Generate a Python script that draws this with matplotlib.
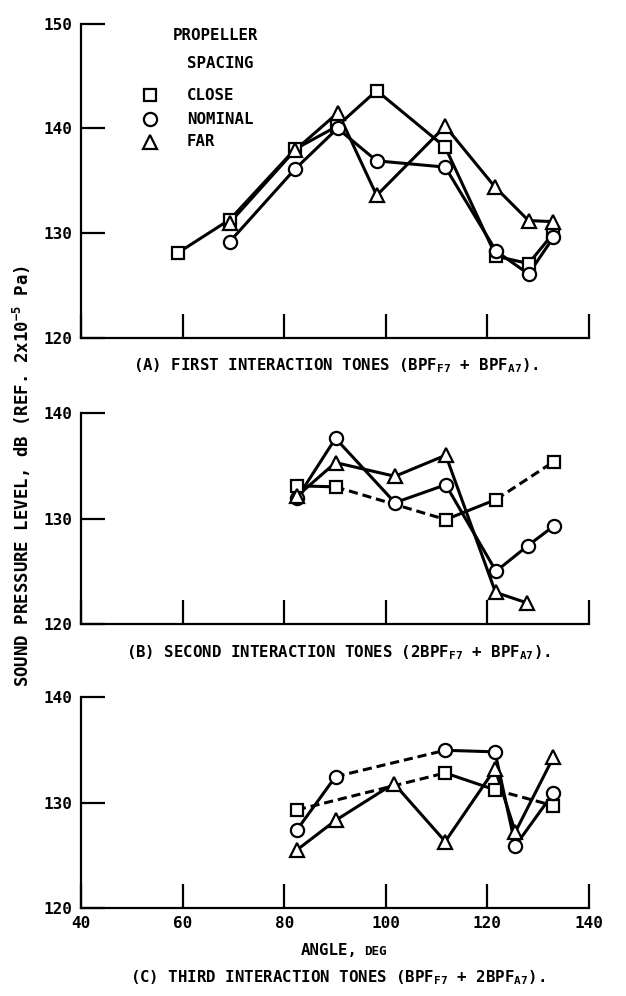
import matplotlib
matplotlib.use("Agg")
import matplotlib.pyplot as plt
from matplotlib.lines import Line2D

plt.rcParams['font.family'] = ['DejaVu Sans Mono', 'DejaVu Sans']
plt.rcParams['font.weight'] = 'bold'
plt.rcParams['mathtext.fontset'] = 'custom'
plt.rcParams['mathtext.rm'] = 'DejaVu Sans Mono:bold'
plt.rcParams['mathtext.it'] = 'DejaVu Sans Mono:bold'
plt.rcParams['mathtext.bf'] = 'DejaVu Sans Mono:bold'

# ---------------- data ----------------
series_names = ["CLOSE", "NOMINAL", "FAR"]
x_ticks = [40, 60, 80, 100, 120, 140]

# Panel A: first interaction tones
angA_close = [59.0, 69.3, 82.1, 90.4, 98.2, 111.7, 121.7, 128.1, 133.0]
splA_close = [128.1, 131.3, 138.0, 140.2, 143.6, 138.2, 127.8, 127.1, 130.0]
angA_nom = [69.3, 82.1, 90.5, 98.2, 111.7, 121.7, 128.1, 133.0]
splA_nom = [129.2, 136.1, 140.0, 136.9, 136.3, 128.3, 126.1, 129.6]
angA_far = [69.3, 82.1, 90.6, 98.2, 111.7, 121.5, 128.1, 133.0]
splA_far = [131.0, 137.9, 141.5, 133.6, 140.2, 134.4, 131.2, 131.1]

# Panel B: second interaction tones
angB_close = [82.5, 90.1, 111.8, 121.7, 133.1]
splB_close = [133.1, 133.0, 129.9, 131.8, 135.4]
angB_nom = [82.5, 90.1, 101.8, 111.8, 121.7, 127.9, 133.1]
splB_nom = [131.9, 137.6, 131.5, 133.2, 125.0, 127.4, 129.3]
angB_far = [82.5, 90.1, 101.8, 111.8, 121.6, 127.8]
splB_far = [132.1, 135.3, 134.0, 136.0, 123.0, 122.0]

# Panel C: third interaction tones
angC_close = [82.5, 111.7, 121.5, 133.0]
splC_close = [129.3, 132.8, 131.2, 129.7]
angC_nom = [82.5, 90.1, 111.7, 121.5, 125.5, 133.0]
splC_nom = [127.4, 132.45, 134.95, 134.8, 125.9, 130.9]
angC_far = [82.5, 90.1, 101.6, 111.7, 121.5, 125.5, 133.0]
splC_far = [125.5, 128.3, 131.8, 126.3, 133.2, 127.2, 134.3]

# segment line styles (solid / dashed)
segA_close = ['-'] * 8
segA_nom = ['-'] * 7
segA_far = ['-'] * 7
segB_close = ['-', '--', '-', '--']
segB_nom = ['-'] * 6
segB_far = ['-'] * 5
segC_close = ['--', '-', '--']
segC_nom = ['-', '--', '-', '-', '-']
segC_far = ['-'] * 6

captions = [
    r"(A) FIRST INTERACTION TONES (BPF$_{\mathrm{F7}}$ + BPF$_{\mathrm{A7}}$).",
    r"(B) SECOND INTERACTION TONES (2BPF$_{\mathrm{F7}}$ + BPF$_{\mathrm{A7}}$).",
    r"(C) THIRD INTERACTION TONES (BPF$_{\mathrm{F7}}$ + 2BPF$_{\mathrm{A7}}$).",
]

# ---------------- figure ----------------
W, H = 626, 996
fig = plt.figure(figsize=(W / 100, H / 100), dpi=100)

def fx(px):
    return px / W

def fy(py):
    return 1 - py / H

markers = {"CLOSE": 's', "NOMINAL": 'o', "FAR": '^'}
msize = {"CLOSE": 9.0, "NOMINAL": 9.5, "FAR": 10.0}
LW = 2.2
FS = 11.5
CFS = 11.3

def draw_series(ax, x, y, segs, name):
    for i, ls in enumerate(segs):
        kw = dict(color='black', lw=LW, solid_capstyle='butt', zorder=2)
        if ls == '--':
            ax.plot(x[i:i + 2], y[i:i + 2], linestyle=(0, (3.0, 1.6)), **kw)
        else:
            ax.plot(x[i:i + 2], y[i:i + 2], linestyle='-', **kw)
    ax.plot(x, y, linestyle='none', marker=markers[name], ms=msize[name],
            mfc='white', mec='black', mew=1.6, zorder=3, clip_on=False)

def style_axes(ax, ymax, xlabels=False):
    ax.set_xlim(40, 140)
    ax.set_ylim(120, ymax)
    ax.set_xticks(x_ticks)
    ax.set_yticks(list(range(120, ymax + 1, 10)))
    for s in ['top', 'right']:
        ax.spines[s].set_visible(False)
    for s in ['left', 'bottom']:
        ax.spines[s].set_linewidth(1.6)
    ax.tick_params(direction='in', length=17, width=1.6, labelsize=FS)
    ax.tick_params(axis='y', pad=6)
    ax.tick_params(axis='x', pad=6)
    if not xlabels:
        ax.tick_params(axis='x', labelbottom=False)

axA = fig.add_axes([fx(81), fy(338), fx(508), 314.5 / H])
axB = fig.add_axes([fx(81), fy(624), fx(508), 211 / H])
axC = fig.add_axes([fx(81), fy(908), fx(508), 211 / H])

draw_series(axA, angA_close, splA_close, segA_close, "CLOSE")
draw_series(axA, angA_nom, splA_nom, segA_nom, "NOMINAL")
draw_series(axA, angA_far, splA_far, segA_far, "FAR")
style_axes(axA, 150)

draw_series(axB, angB_close, splB_close, segB_close, "CLOSE")
draw_series(axB, angB_nom, splB_nom, segB_nom, "NOMINAL")
draw_series(axB, angB_far, splB_far, segB_far, "FAR")
style_axes(axB, 140)

draw_series(axC, angC_close, splC_close, segC_close, "CLOSE")
draw_series(axC, angC_nom, splC_nom, segC_nom, "NOMINAL")
draw_series(axC, angC_far, splC_far, segC_far, "FAR")
style_axes(axC, 140, xlabels=True)

# captions
fig.text(fx(336), fy(366), captions[0], ha='center', va='center', fontsize=CFS)
fig.text(fx(338), fy(653), captions[1], ha='center', va='center', fontsize=CFS)
fig.text(fx(338), fy(978), captions[2], ha='center', va='center', fontsize=CFS)

# x label
fig.text(fx(358), fy(950), "ANGLE,", ha='right', va='center', fontsize=CFS)
fig.text(fx(364), fy(951), "DEG", ha='left', va='center', fontsize=9.0)

# y label
fig.text(fx(22), fy(476), r"SOUND PRESSURE LEVEL, dB (REF. 2x10$^{-5}$ Pa)",
         rotation=90, ha='center', va='center', fontsize=12.5)

# legend
fig.text(fx(216), fy(36), "PROPELLER", ha='center', va='center', fontsize=CFS)
fig.text(fx(220), fy(63), "SPACING", ha='center', va='center', fontsize=CFS)
for name, py in zip(series_names, [95, 119, 142]):
    fig.add_artist(Line2D([fx(150)], [fy(py)], transform=fig.transFigure,
                          marker=markers[name], ms=msize[name], mfc='white',
                          mec='black', mew=1.6, linestyle='none'))
    fig.text(fx(187), fy(py), name, ha='left', va='center', fontsize=CFS)

fig.savefig("out.png", dpi=100)
